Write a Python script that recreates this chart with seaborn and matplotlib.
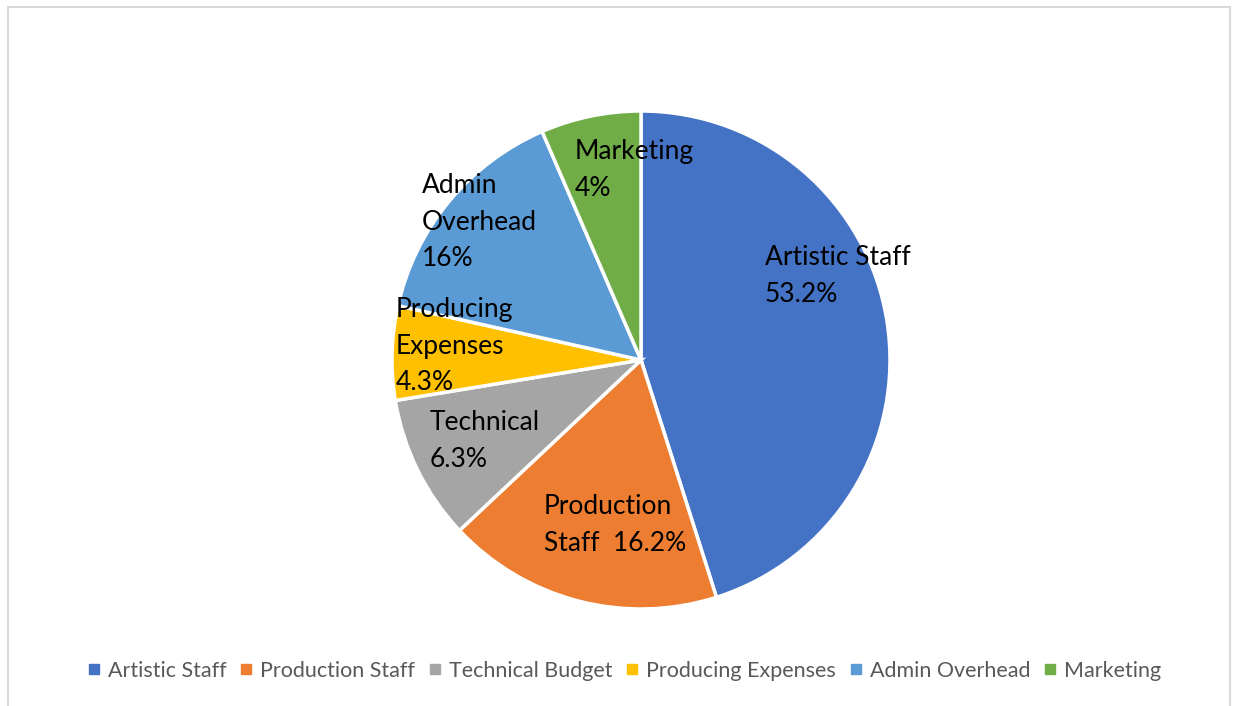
import numpy as np
import matplotlib
matplotlib.use("Agg")
import matplotlib.pyplot as plt
from matplotlib.lines import Line2D
from matplotlib.patches import Rectangle
import seaborn as sns

# slice shares (the printed labels differ from the drawn angles)
categories = ["Artistic Staff", "Production Staff", "Technical Budget",
              "Producing Expenses", "Admin Overhead", "Marketing"]
shares = [45.1, 17.9, 9.4, 6.1, 15.0, 6.5]
slice_labels = ["Artistic Staff\n53.2%", "Production\nStaff  16.2%", "Technical\n6.3%",
                "Producing\nExpenses\n4.3%", "Admin\nOverhead\n16%", "Marketing\n4%"]
colors = ["#4472C4", "#ED7D31", "#A5A5A5", "#FFC000", "#5B9BD5", "#70AD47"]

sns.set_theme(style="white")
plt.rcParams['font.family'] = ['Lato', 'DejaVu Sans']

W, H = 1233, 706
fig = plt.figure(figsize=(W / 100, H / 100), dpi=100)
fig.patch.set_facecolor("white")

# chart frame
fig.patches.append(Rectangle((8 / W, -0.05), (1230 - 8) / W, 1 - 7 / H + 0.05,
                             transform=fig.transFigure, fill=False,
                             edgecolor="#D9D9D9", linewidth=1.5))

cx, cy, r = 641, 360, 249
ax = fig.add_axes([(cx - r) / W, (H - cy - r) / H, 2 * r / W, 2 * r / H])
palette = sns.color_palette(colors)
wedges, _ = ax.pie(shares, colors=palette, startangle=90, counterclock=False,
                   wedgeprops=dict(edgecolor="white", linewidth=2.5))
ax.set_xlim(-1, 1)
ax.set_ylim(-1, 1)
ax.set_aspect("equal")
ax.axis("off")

# label anchors (left edge, centre of first line) in pixels
label_pos = [(765, 256), (544, 505), (430, 421), (396, 308), (422, 184), (575, 150)]
for txt, (px, py) in zip(slice_labels, label_pos):
    ax.text((px - cx) / r, (cy - py + 11) / r, txt, ha="left", va="top",
            fontsize=19, color="black", linespacing=1.58)

handles = [Line2D([0], [0], marker="s", linestyle="none", markersize=6.5,
                  markerfacecolor=c, markeredgecolor=c) for c in colors]
leg = fig.legend(handles, categories, loc="center", ncol=6,
                 bbox_to_anchor=(0.5 + 8 / W, 1 - 671 / H), frameon=False,
                 fontsize=15.5, handlelength=0.6, handletextpad=0.35,
                 columnspacing=0.62)
for t in leg.get_texts():
    t.set_color("#595959")

fig.savefig("out.png", dpi=100)
